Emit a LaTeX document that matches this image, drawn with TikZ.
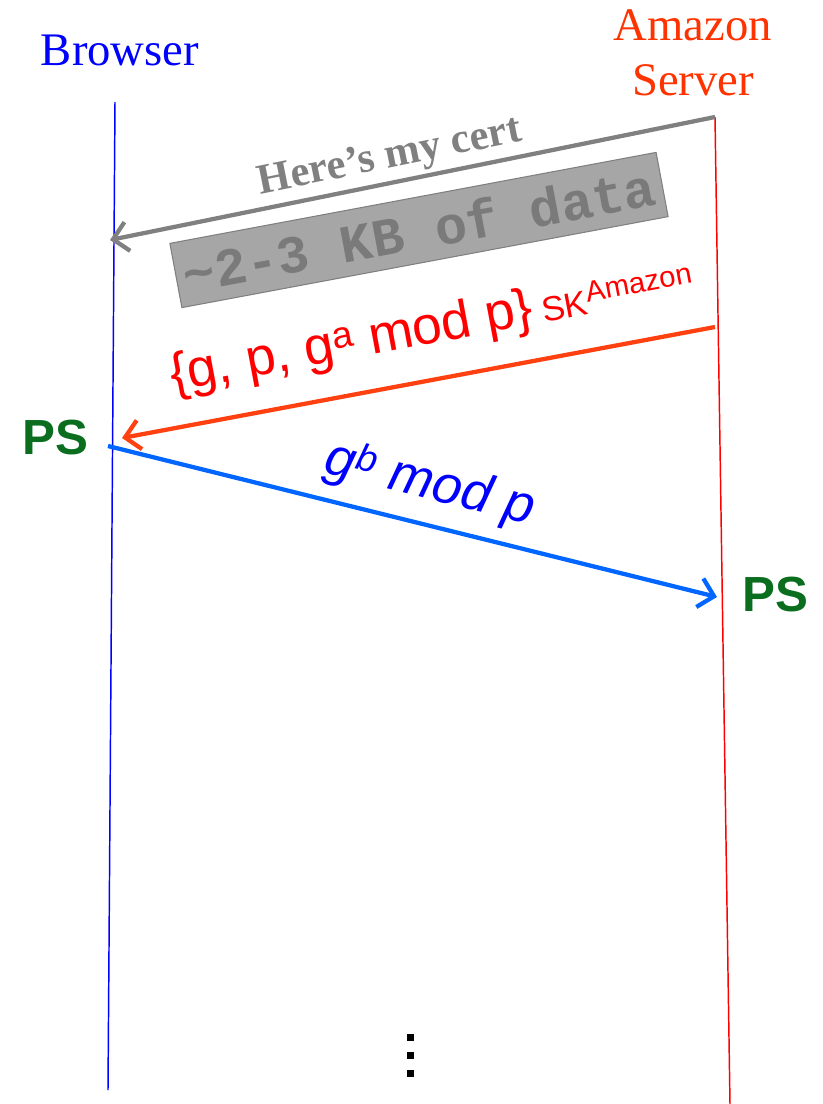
\documentclass[tikz,border=0pt]{standalone}
\usepackage{fontspec}
\setmainfont{Liberation Serif}
\setsansfont{Liberation Sans}
\setmonofont{Liberation Mono}
\usetikzlibrary{arrows.meta}
\definecolor{brblue}{HTML}{0000FF}
\definecolor{svred}{HTML}{FF0000}
\definecolor{svorange}{HTML}{FF3300}
\definecolor{certgray}{HTML}{808080}
\definecolor{boxfill}{HTML}{A6A6A6}
\definecolor{boxtext}{HTML}{7A7A7A}
\definecolor{msgred}{HTML}{FF4010}
\definecolor{msgblue}{HTML}{0066FF}
\definecolor{psgreen}{HTML}{0B6E1F}
\tikzset{
  lifeline/.style={line width=1.1pt},
  msg/.style={line width=3.2pt,-{Straight Barb[length=11pt,width=22pt]}},
  actor/.style={font=\fontsize{35}{41}\selectfont, align=center, inner sep=0pt},
  pslabel/.style={font=\sffamily\bfseries\fontsize{37}{40}\selectfont, text=psgreen, inner sep=0pt},
}
\begin{document}
\begin{tikzpicture}[x=0.75pt,y=-0.75pt]
\useasboundingbox (0,0) rectangle (822,1104);
% lifelines
\coordinate (B0) at (115,102);
\coordinate (B1) at (108,1090);
\coordinate (S0) at (715,117);
\coordinate (S1) at (730,1104);
\draw[lifeline, brblue] (B0) -- (B1);
\draw[lifeline, svred] (S0) -- (S1);
% actors
\node[actor, text=brblue] (browser) at (120,50) {Browser};
\node[actor, text=svorange] (amazon) at (693,53) {Amazon\\Server};
% message 1
\coordinate (m1s) at (715,117);
\coordinate (m1e) at (110,240);
\draw[msg, certgray] (m1s) -- (m1e);
\node[rotate=11.5, text=certgray, font=\bfseries\fontsize{32}{36}\selectfont, inner sep=0pt] (cert) at (390,158) {Here’s my cert};
\node[rotate=10.6, fill=boxfill, draw=certgray, line width=0.8pt, minimum width=371pt, minimum height=49pt, inner sep=0pt, text=boxtext, font=\ttfamily\bfseries\fontsize{40}{44}\selectfont] (data) at (419,230) {\raisebox{-6pt}{\textasciitilde 2-3 KB of data}};
% message 2
\coordinate (m2s) at (715,327);
\coordinate (m2e) at (122,438);
\draw[msg, msgred] (m2s) -- (m2e);
\node[rotate=10.6, text=svred, font=\sffamily\fontsize{40}{44}\selectfont, inner sep=0pt, anchor=base west] (dh1) at (173,392) {\{g, p, g\textsuperscript{a} mod p\}\,{\fontsize{26}{28}\selectfont SK\textsuperscript{\fontsize{22}{24}\selectfont Amazon}}};
% message 3
\coordinate (m3s) at (108,446);
\coordinate (m3e) at (717,597);
\draw[msg, msgblue] (m3s) -- (m3e);
\node[rotate=-14, text=brblue, font=\sffamily\itshape\fontsize{40}{44}\selectfont, inner sep=0pt] (dh2) at (430,485) {g\textsuperscript{b} mod p};
% PS labels
\node[pslabel] (ps1) at (55,438) {PS};
\node[pslabel] (ps2) at (775,595) {PS};
% continuation dots
\foreach \yy in {1037,1055,1073} \fill (406.5,\yy-3.5) rectangle (413.5,\yy+3.5);
\end{tikzpicture}
\end{document}
